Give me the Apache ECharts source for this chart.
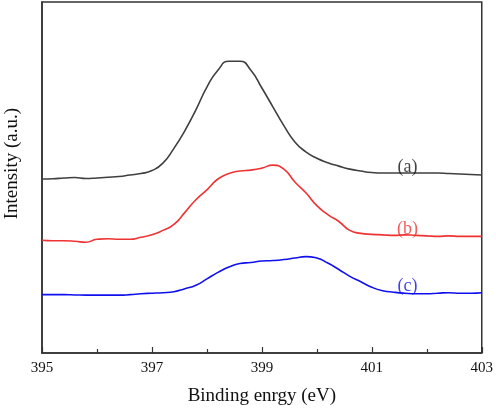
<!DOCTYPE html>
<html>
<head>
<meta charset="utf-8">
<script src="https://cdn.jsdelivr.net/npm/echarts@6/dist/echarts.min.js"></script>
<style>
html,body{margin:0;padding:0;background:#fff;}
#chart{width:496px;height:411px;}
</style>
</head>
<body>
<div id="chart"></div>
<script>
// Binding energy grid (eV)
var energy = [395.0,395.2,395.4,395.6,395.8,396.0,396.2,396.4,396.6,396.8,
  397.0,397.2,397.4,397.6,397.8,398.0,398.2,398.4,398.6,398.8,
  399.0,399.2,399.4,399.6,399.8,400.0,400.2,400.4,400.6,400.8,
  401.0,401.2,401.4,401.6,401.8,402.0,402.2,402.4,402.6,402.8,403.0];

// Intensities (a.u., offset curves)
var seriesA = [176,176.3,177,177.5,176.5,177,177.7,178.5,180,181.5,
  184.5,192,207,225,246,269,286,295,295,286,
  268,249,230,213.5,203.5,197,192.5,189,186,184,
  182.5,182,182,182,182,182,182,181.5,181,180.5,180];
var seriesB = [114,113.5,113.5,113,112,115,115.5,115,115,117,
  119.5,124,130,142.2,155,165,176,181.5,184,185,
  187,190,186,173,162,149,140,133,124,121,
  120,119.5,119,119.5,119,118.5,118,118.5,118,118,118];
var seriesC = [59,59,59,58.7,58.5,58.5,58.5,58.5,59,60,
  60.5,61,62,65,68.5,75,81.5,87,90.5,91.5,
  93,93.5,94.5,96,97.5,96,91,84.5,77.5,72,
  66.5,63,61.5,60.5,60,60,60.5,61,60.5,60.5,61];

var labels = ['(a)','(b)','(c)'];
var colors = ['#3f3f3f','#ee3333','#1010ee'];
var labelColors = ['#111','#ee3333','#1010ee'];
var labelPos = [[401.65, 188],[401.65, 125],[401.65, 68]];
var xTicks = [395,397,399,401,403];

function pairs(ys){ return energy.map(function(e,i){ return [e, ys[i]]; }); }

var chart = echarts.init(document.getElementById('chart'), null, {renderer:'canvas'});
var font = '"Liberation Serif","Times New Roman",serif';
var data = [seriesA, seriesB, seriesC];
var series = data.map(function(ys, k){
  return {
    type:'line', data: pairs(ys), smooth:0.55, smoothConstraint:false, symbol:'none',
    lineStyle:{color:colors[k], width:1.6},
    silent:true, z:3
  };
});
series.push({
  type:'scatter', symbolSize:0, silent:true, z:5,
  data: labelPos.map(function(p,k){ return {value:p, label:{show:true, formatter:labels[k], color:labelColors[k]}}; }),
  label:{show:true, position:'inside', fontFamily:font, fontSize:18}
});

chart.setOption({
  animation:false,
  backgroundColor:'#fff',
  grid:{left:42, right:11.5, top:2, bottom:54, show:true, borderColor:'#333', borderWidth:1.5, backgroundColor:'transparent'},
  xAxis:{
    type:'value', min:395, max:403, interval:2,
    axisLine:{show:true, lineStyle:{color:'#333', width:1.5}},
    axisTick:{show:true, inside:true, length:6, lineStyle:{color:'#333', width:1.2}},
    minorTick:{show:true, splitNumber:2, length:4, lineStyle:{color:'#333', width:1.2}},
    splitLine:{show:false},
    axisLabel:{fontFamily:font, fontSize:15, color:'#111', margin:8,
      formatter:function(v){ return xTicks.indexOf(v) >= 0 ? String(v) : ''; }},
    name:'Binding enrgy (eV)', nameLocation:'middle', nameGap:34,
    nameTextStyle:{fontFamily:font, fontSize:19, color:'#111'}
  },
  yAxis:{
    type:'value', min:0, max:355,
    axisLine:{show:true, lineStyle:{color:'#333', width:1.5}},
    axisTick:{show:false}, axisLabel:{show:false}, splitLine:{show:false}
  },
  graphic:[{
    type:'text', left:3, top:108, rotation:Math.PI/2,
    style:{text:'Intensity (a.u.)', fontFamily:font, fontSize:19, fill:'#111'}
  }],
  series: series
});
</script>
</body>
</html>
